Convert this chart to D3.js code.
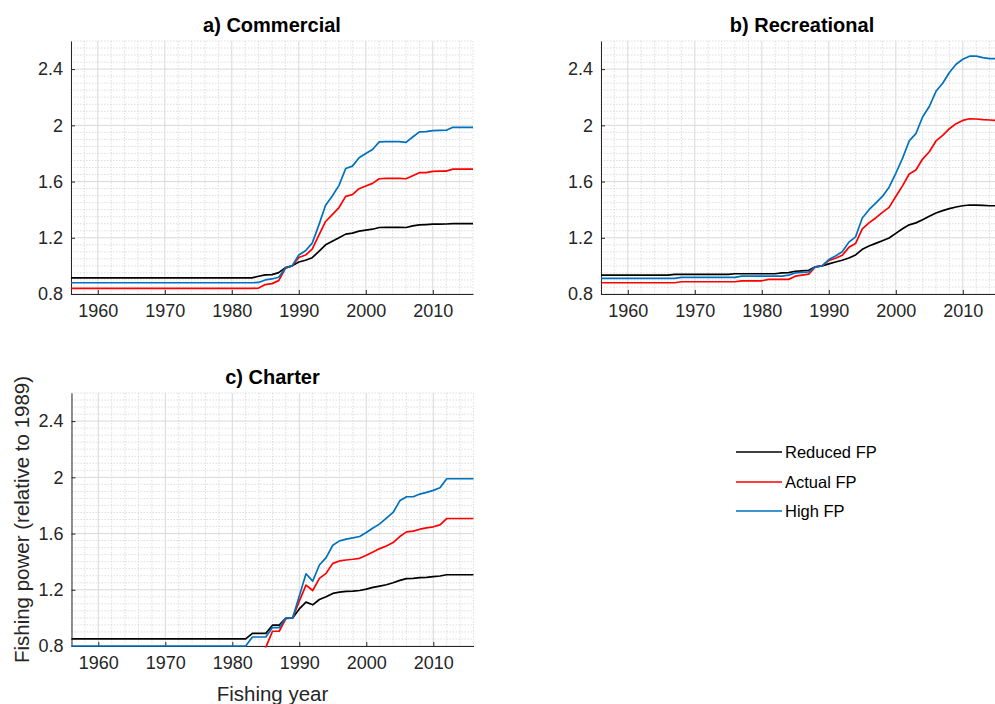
<!DOCTYPE html>
<html lang="en">
<head>
<meta charset="UTF-8">
<title>Fishing power relative to 1989</title>
<style>
  body { margin: 0; background: #fff; }
  svg text { font-family: "Liberation Sans", Arial, sans-serif; fill: #262626; }
  .grid-major { stroke: #d9d9d9; stroke-width: 1; }
  .grid-minor { stroke: #d0d0d0; stroke-width: 0.7; stroke-dasharray: 1.5,1.5; }
  .axis path, .axis line { stroke: #262626; stroke-width: 1; }
  .axis text { font-size: 18px; }
  .series { fill: none; stroke-width: 1.7; stroke-linejoin: round; }
  .title { font-size: 20px; font-weight: bold; fill: #000; }
  .label { font-size: 20.5px; }
  .legend text { font-size: 16.5px; fill: #000; }
</style>
<script src="https://d3js.org/d3.v7.min.js"></script>
</head>
<body>
<svg width="995" height="704"></svg>
<script>
// fishing years 1956 - 2016
const years = [1956,1957,1958,1959,1960,1961,1962,1963,1964,1965,1966,1967,1968,1969,1970,1971,1972,1973,1974,1975,
  1976,1977,1978,1979,1980,1981,1982,1983,1984,1985,1986,1987,1988,1989,1990,1991,1992,1993,1994,1995,
  1996,1997,1998,1999,2000,2001,2002,2003,2004,2005,2006,2007,2008,2009,2010,2011,2012,2013,2014,2015,2016];

const seriesNames = ["Reduced FP", "Actual FP", "High FP"];
const panelTitles = ["a) Commercial", "b) Recreational", "c) Charter"];
const xTicks = [1960, 1970, 1980, 1990, 2000, 2010];
const yTicks = [0.8, 1.2, 1.6, 2, 2.4];

// a) Commercial
const comReduced = [0.915,0.915,0.915,0.915,0.915,0.915,0.915,0.915,0.915,0.915,0.915,0.915,0.915,0.915,0.915,0.915,0.915,0.915,0.915,0.915,
  0.915,0.915,0.915,0.915,0.915,0.915,0.915,0.915,0.926,0.936,0.938,0.952,0.988,1.0,1.028,1.04,1.058,1.103,1.15,1.176,
  1.2,1.226,1.233,1.247,1.254,1.261,1.273,1.274,1.274,1.274,1.273,1.285,1.292,1.294,1.297,1.297,1.298,1.3,1.3,1.3,1.3];
const comActual = [0.84,0.84,0.84,0.84,0.84,0.84,0.84,0.84,0.84,0.84,0.84,0.84,0.84,0.84,0.84,0.84,0.84,0.84,0.84,0.84,
  0.84,0.84,0.84,0.84,0.84,0.84,0.84,0.84,0.842,0.867,0.874,0.895,0.983,1.0,1.06,1.077,1.12,1.219,1.316,1.365,
  1.415,1.495,1.507,1.549,1.568,1.587,1.62,1.622,1.622,1.622,1.62,1.641,1.663,1.664,1.672,1.674,1.674,1.688,1.688,1.688,1.688];
const comHigh = [0.88,0.88,0.88,0.88,0.88,0.88,0.88,0.88,0.88,0.88,0.88,0.88,0.88,0.88,0.88,0.88,0.88,0.88,0.88,0.88,
  0.88,0.88,0.88,0.88,0.88,0.88,0.88,0.88,0.882,0.9,0.907,0.919,0.985,1.0,1.077,1.108,1.162,1.292,1.431,1.497,
  1.573,1.693,1.71,1.769,1.8,1.828,1.882,1.884,1.884,1.884,1.879,1.917,1.953,1.955,1.962,1.964,1.965,1.986,1.986,1.986,1.986];

// b) Recreational
const recReduced = [0.934,0.934,0.934,0.934,0.934,0.934,0.934,0.934,0.934,0.934,0.934,0.94,0.94,0.94,0.94,0.94,0.94,0.94,0.94,0.94,
  0.944,0.944,0.944,0.944,0.944,0.944,0.944,0.95,0.952,0.962,0.965,0.969,0.993,1.0,1.014,1.028,1.04,1.056,1.078,1.118,
  1.141,1.16,1.179,1.198,1.231,1.264,1.292,1.306,1.329,1.353,1.376,1.393,1.407,1.419,1.428,1.433,1.433,1.431,1.428,1.428,1.428];
const recActual = [0.88,0.88,0.88,0.88,0.88,0.88,0.88,0.88,0.88,0.88,0.88,0.88,0.887,0.887,0.887,0.887,0.887,0.887,0.887,0.887,
  0.887,0.894,0.894,0.894,0.894,0.904,0.904,0.904,0.904,0.927,0.934,0.941,0.993,1.0,1.038,1.054,1.075,1.132,1.16,1.264,
  1.306,1.341,1.381,1.416,1.494,1.569,1.654,1.682,1.76,1.812,1.889,1.929,1.976,2.012,2.035,2.047,2.045,2.04,2.038,2.035,2.035];
const recHigh = [0.911,0.911,0.911,0.911,0.911,0.911,0.911,0.911,0.911,0.911,0.911,0.911,0.918,0.918,0.918,0.918,0.918,0.918,0.918,0.918,
  0.918,0.927,0.927,0.927,0.927,0.927,0.927,0.927,0.934,0.95,0.953,0.957,0.993,1.0,1.045,1.071,1.101,1.169,1.207,1.341,
  1.4,1.447,1.494,1.56,1.659,1.765,1.889,1.941,2.059,2.134,2.242,2.299,2.376,2.435,2.47,2.492,2.492,2.482,2.475,2.475,2.475];

// c) Charter (actual FP before 1985 lies below the axis limit)
const chaReduced = [0.85,0.85,0.85,0.85,0.85,0.85,0.85,0.85,0.85,0.85,0.85,0.85,0.85,0.85,0.85,0.85,0.85,0.85,0.85,0.85,
  0.85,0.85,0.85,0.85,0.85,0.85,0.85,0.89,0.89,0.89,0.948,0.948,0.998,1.0,1.064,1.112,1.093,1.131,1.15,1.174,
  1.183,1.188,1.19,1.195,1.205,1.217,1.226,1.236,1.25,1.267,1.279,1.281,1.286,1.288,1.293,1.298,1.307,1.307,1.307,1.307,1.307];
const chaActual = [0.72,0.72,0.72,0.72,0.72,0.72,0.72,0.72,0.72,0.72,0.72,0.72,0.72,0.72,0.72,0.72,0.72,0.72,0.72,0.72,
  0.72,0.72,0.72,0.72,0.72,0.72,0.72,0.72,0.72,0.79,0.905,0.905,0.995,1.0,1.119,1.233,1.195,1.281,1.317,1.388,
  1.405,1.412,1.417,1.424,1.445,1.469,1.493,1.512,1.536,1.579,1.612,1.617,1.631,1.64,1.648,1.662,1.707,1.707,1.707,1.707,1.707];
const chaHigh = [0.8,0.8,0.8,0.8,0.8,0.8,0.8,0.8,0.8,0.8,0.8,0.8,0.8,0.8,0.8,0.8,0.8,0.8,0.8,0.8,
  0.8,0.8,0.8,0.8,0.8,0.8,0.8,0.864,0.864,0.864,0.931,0.931,1.0,1.0,1.155,1.314,1.262,1.376,1.429,1.517,
  1.548,1.56,1.569,1.579,1.607,1.64,1.669,1.71,1.75,1.833,1.862,1.862,1.881,1.893,1.907,1.926,1.99,1.99,1.99,1.99,1.99];

const colors = ["#000000", "#ff0000", "#0072bd"];

const svg = d3.select("svg");
svg.append("rect").attr("width", 995).attr("height", 704).attr("fill", "#fff");

const panels = [
  { title: panelTitles[0], left: 71, top: 41, data: [comReduced, comActual, comHigh] },
  { title: panelTitles[1], left: 601, top: 41, data: [recReduced, recActual, recHigh] },
  { title: panelTitles[2], left: 71.5, top: 393, data: [chaReduced, chaActual, chaHigh] }
];
const W = 402, H = 253;

const x = d3.scaleLinear().domain([1956, 2016]).range([0, W]);
const y = d3.scaleLinear().domain([0.8, 2.6]).range([H, 0]);

const minorX = d3.range(1956, 2017, 2).filter(v => v % 10 !== 0);
const minorY = d3.range(0, 37).map(i => 0.8 + i * 0.05)
  .filter(v => !yTicks.some(t => Math.abs(t - v) < 1e-6));

const line = d3.line().x((d, i) => x(years[i])).y(d => y(d));

panels.forEach((p, pi) => {
  const g = svg.append("g").attr("transform", `translate(${p.left},${p.top})`);

  // grid
  g.append("g").selectAll("line").data(minorX).enter().append("line")
    .attr("class", "grid-minor")
    .attr("x1", d => x(d)).attr("x2", d => x(d)).attr("y1", 0).attr("y2", H);
  g.append("g").selectAll("line").data(minorY).enter().append("line")
    .attr("class", "grid-minor")
    .attr("x1", 0).attr("x2", W).attr("y1", d => y(d)).attr("y2", d => y(d));
  g.append("g").selectAll("line").data(xTicks).enter().append("line")
    .attr("class", "grid-major")
    .attr("x1", d => x(d)).attr("x2", d => x(d)).attr("y1", 0).attr("y2", H);
  g.append("g").selectAll("line").data(yTicks).enter().append("line")
    .attr("class", "grid-major")
    .attr("x1", 0).attr("x2", W).attr("y1", d => y(d)).attr("y2", d => y(d));

  // axes
  g.append("g").attr("class", "axis").attr("transform", `translate(0,${H})`)
    .call(d3.axisBottom(x).tickValues(xTicks).tickFormat(d3.format("d"))
      .tickSizeInner(-4).tickSizeOuter(0).tickPadding(10));
  g.append("g").attr("class", "axis")
    .call(d3.axisLeft(y).tickValues(yTicks).tickFormat(d => String(d))
      .tickSizeInner(-4).tickSizeOuter(0).tickPadding(8));

  // data lines
  const clipId = "clip" + pi;
  g.append("clipPath").attr("id", clipId).append("rect")
    .attr("x", -1).attr("y", -1.5).attr("width", W + 2).attr("height", H + 3);
  g.append("g").attr("clip-path", `url(#${clipId})`)
    .selectAll("path").data(p.data).enter().append("path")
    .attr("class", "series")
    .attr("stroke", (d, i) => colors[i])
    .attr("d", line);

  g.append("text").attr("class", "title")
    .attr("x", W / 2).attr("y", -9)
    .attr("text-anchor", "middle")
    .text(p.title);
});

// axis labels (shared, on panel c)
svg.append("text").attr("class", "label")
  .attr("x", 71.5 + W / 2).attr("y", 701)
  .attr("text-anchor", "middle")
  .text("Fishing year");
svg.append("text").attr("class", "label")
  .attr("transform", `translate(29,${393 + H / 2}) rotate(-90)`)
  .attr("text-anchor", "middle")
  .text("Fishing power (relative to 1989)");

// legend
const legend = svg.append("g").attr("class", "legend");
const legendY = [452, 482, 511];
seriesNames.forEach((name, i) => {
  legend.append("line")
    .attr("x1", 736).attr("x2", 782)
    .attr("y1", legendY[i]).attr("y2", legendY[i])
    .attr("stroke", colors[i]).attr("stroke-width", 1.7);
  legend.append("text")
    .attr("x", 785).attr("y", legendY[i]).attr("dy", "0.35em")
    .text(name);
});
</script>
</body>
</html>
